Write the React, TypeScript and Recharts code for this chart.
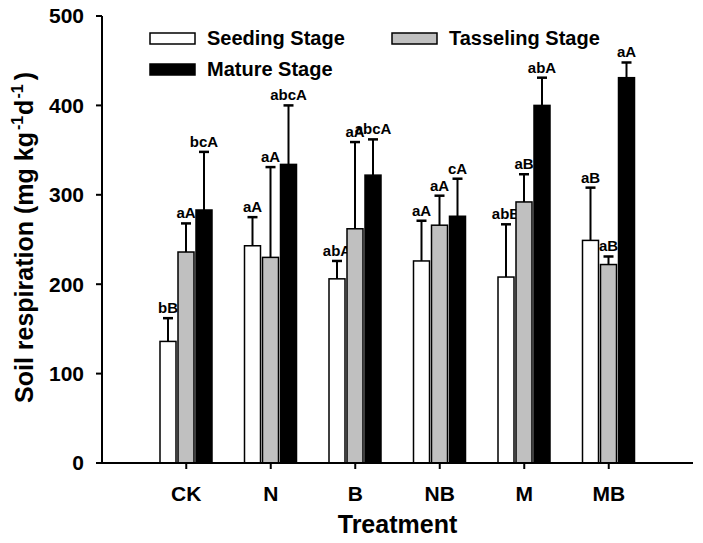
import React from 'react';
import { BarChart, Bar, XAxis, YAxis, Customized } from 'recharts';

const categories = ['CK', 'N', 'B', 'NB', 'M', 'MB'];
const seedingValues = [136, 243, 206, 226, 208, 249];
const seedingErrors = [26, 32, 20, 45, 59, 59];
const seedingLabels = ['bB', 'aA', 'abA', 'aA', 'abB', 'aB'];
const tasselingValues = [236, 230, 262, 266, 292, 222];
const tasselingErrors = [32, 101, 97, 33, 31, 9];
const tasselingLabels = ['aA', 'aA', 'aA', 'aA', 'aB', 'aB'];
const matureValues = [283, 334, 322, 276, 400, 431];
const matureErrors = [65, 66, 40, 42, 31, 17];
const matureLabels = ['bcA', 'abcA', 'abcA', 'cA', 'abA', 'aA'];
const yTicks = [0, 100, 200, 300, 400, 500];
const seriesNames = ['Seeding Stage', 'Tasseling Stage', 'Mature Stage'];
const seriesColors = ['#ffffff', '#c0c0c0', '#000000'];

const data = categories.map((c, i) => ({
  category: c,
  seeding: seedingValues[i],
  seedingErr: seedingErrors[i],
  seedingLabel: seedingLabels[i],
  tasseling: tasselingValues[i],
  tasselingErr: tasselingErrors[i],
  tasselingLabel: tasselingLabels[i],
  mature: matureValues[i],
  matureErr: matureErrors[i],
  matureLabel: matureLabels[i],
}));

const FONT = 'Arial, "Liberation Sans", Helvetica, sans-serif';

function makeShape(valueKey: string, errKey: string, labelKey: string, fill: string) {
  return (props: any) => {
    const { x, y, width, height, payload } = props;
    const v = payload[valueKey];
    const ppu = v ? height / v : 0;
    const ey = y - payload[errKey] * ppu;
    const cx = x + width / 2;
    return (
      <g>
        <line x1={cx} y1={y} x2={cx} y2={ey} stroke="#000" strokeWidth={2} />
        <line x1={cx - 5} y1={ey} x2={cx + 5} y2={ey} stroke="#000" strokeWidth={2.5} />
        <rect x={x} y={y} width={width} height={height} fill={fill} stroke="#000" strokeWidth={1.5} />
        <text x={cx} y={ey - 5} textAnchor="middle" fontFamily={FONT} fontWeight="bold" fontSize={15} fill="#000">
          {payload[labelKey]}
        </text>
      </g>
    );
  };
}

const LegendLayer = () => {
  const items = [
    { x: 150, y: 33 },
    { x: 392, y: 33 },
    { x: 150, y: 64 },
  ];
  return (
    <g>
      {seriesNames.map((name, i) => (
        <g key={name}>
          <rect x={items[i].x} y={items[i].y} width={45} height={11} fill={seriesColors[i]} stroke="#000" strokeWidth={1.5} />
          <text x={items[i].x + 57} y={items[i].y + 12} fontFamily={FONT} fontWeight="bold" fontSize={20} fill="#000">
            {name}
          </text>
        </g>
      ))}
    </g>
  );
};

const YLabel = (props: any) => {
  const vb = props.viewBox || { x: 32, y: 16, width: 70, height: 447 };
  const cx = vb.x + 1;
  const cy = vb.y + vb.height / 2 - 2;
  return (
    <text
      x={cx}
      y={cy}
      transform={`rotate(-90, ${cx}, ${cy})`}
      textAnchor="middle"
      fontFamily={FONT}
      fontWeight="bold"
      fontSize={25}
      fill="#000"
    >
      Soil respiration (mg kg
      <tspan dx={2} dy={-10} fontSize={16}>-1</tspan>
      <tspan dx={1} dy={10}>d</tspan>
      <tspan dx={1} dy={-10} fontSize={16}>-1</tspan>
      <tspan dx={4} dy={10}>)</tspan>
    </text>
  );
};

const XLabel = (props: any) => {
  const vb = props.viewBox || { x: 102, y: 463, width: 591, height: 50 };
  return (
    <text x={vb.x + vb.width / 2} y={vb.y + 70} textAnchor="middle" fontFamily={FONT} fontWeight="bold" fontSize={25} fill="#000">
      Treatment
    </text>
  );
};

const axisLine = { stroke: '#000', strokeWidth: 2 };
const tickStyle = { fill: '#000', fontSize: 21, fontWeight: 'bold', fontFamily: FONT };

export default function App() {
  return (
    <div style={{ position: 'absolute', left: 0, top: 0, background: '#fff' }}>
      <BarChart
        width={703}
        height={543}
        data={data}
        margin={{ top: 16, right: 10, bottom: 30, left: 32 }}
        barSize={16}
        barGap={2}
      >
        <XAxis
          dataKey="category"
          padding={{ left: 42, right: 42 }}
          tick={tickStyle}
          tickSize={6}
          tickMargin={17}
          axisLine={axisLine}
          tickLine={axisLine}
          height={50}
          label={<XLabel />}
        />
        <XAxis
          xAxisId="top"
          orientation="top"
          dataKey="category"
          padding={{ left: 42, right: 42 }}
          tick={false}
          tickLine={false}
          height={0}
          axisLine={axisLine}
        />
        <YAxis
          domain={[0, 500]}
          ticks={yTicks}
          tick={tickStyle}
          tickSize={6}
          tickMargin={12}
          axisLine={axisLine}
          tickLine={axisLine}
          width={70}
          label={<YLabel />}
        />
        <YAxis
          yAxisId="right"
          orientation="right"
          domain={[0, 500]}
          tick={false}
          tickLine={false}
          width={0}
          axisLine={axisLine}
        />
        <Bar dataKey="seeding" isAnimationActive={false} shape={makeShape('seeding', 'seedingErr', 'seedingLabel', seriesColors[0])} />
        <Bar dataKey="tasseling" isAnimationActive={false} shape={makeShape('tasseling', 'tasselingErr', 'tasselingLabel', seriesColors[1])} />
        <Bar dataKey="mature" isAnimationActive={false} shape={makeShape('mature', 'matureErr', 'matureLabel', seriesColors[2])} />
        <Customized component={LegendLayer} />
      </BarChart>
    </div>
  );
}
